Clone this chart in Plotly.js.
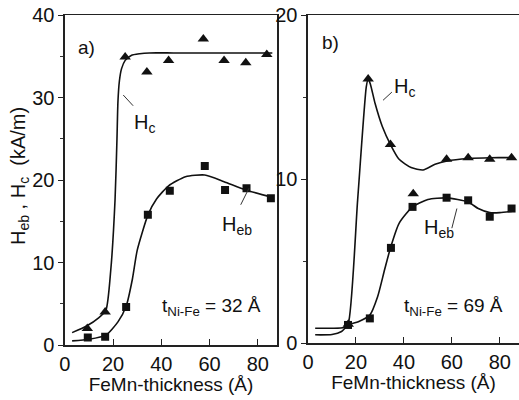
<!DOCTYPE html>
<html><head><meta charset="utf-8">
<script src="https://cdn.plot.ly/plotly-3.0.1.min.js"></script>
<style>html,body{margin:0;padding:0;background:#fff}#chart{width:519px;height:400px}</style>
</head><body><div id="chart"></div>
<script>
// Panel a) t_NiFe = 32 Å
const aHcX = [9.3, 16.7, 25, 34, 43, 57.4, 66, 75, 83.7];
const aHcY = [2.0, 4.0, 34.9, 33.1, 34.5, 37.1, 34.5, 34.2, 35.2];
const aHebX = [9.5, 16.7, 25.4, 34.4, 43.5, 58, 66.4, 75.3, 85.4];
const aHebY = [0.9, 1.0, 4.6, 15.8, 18.7, 21.7, 18.8, 19.0, 17.8];
const aHcFitX = [3, 9, 14, 17, 19, 20.8, 21.6, 22.0, 22.6, 23.5, 25, 27.5, 31, 35, 45, 60, 75, 86];
const aHcFitY = [1.5, 2.3, 3.3, 4.2, 9, 17.6, 25, 29.5, 32.0, 33.5, 34.5, 35.1, 35.3, 35.4, 35.4, 35.4, 35.4, 35.4];
const aHebFitX = [3, 10, 17, 22, 25.5, 28, 30, 34.5, 38, 43, 50, 58, 66, 75, 86];
const aHebFitY = [0.5, 0.7, 1.2, 2.8, 4.8, 8, 11.5, 15.8, 17.7, 19.3, 20.4, 20.6, 19.8, 18.8, 17.9];
// Panel b) t_NiFe = 69 Å
const bHcX = [16.8, 25.1, 34.4, 43.9, 57.8, 66.8, 75.8, 84.9];
const bHcY = [1.15, 16.1, 12.1, 9.1, 11.2, 11.3, 11.2, 11.3];
const bHebX = [16.7, 25.8, 34.6, 43.6, 57.8, 66.8, 75.8, 84.9];
const bHebY = [1.1, 1.5, 5.8, 8.3, 8.86, 8.7, 7.7, 8.2];
const bHcFitX = [3, 10, 15, 16.8, 20.7, 24.3, 25.1, 26, 28, 31, 34.4, 38, 43, 48, 53, 58, 67, 76, 86];
const bHcFitY = [0.9, 0.9, 0.95, 1.2, 8.7, 15.6, 16.1, 15.8, 14.6, 13.2, 12.1, 11.2, 10.7, 10.55, 10.9, 11.1, 11.25, 11.3, 11.3];
const bHebFitX = [3, 10, 14, 16.8, 21, 25.8, 29, 32, 34.6, 38, 43.6, 50, 57.8, 66.8, 71, 75.8, 80, 86];
const bHebFitY = [0.5, 0.52, 0.7, 1.1, 1.3, 1.7, 2.8, 4.5, 5.9, 7.3, 8.3, 8.75, 8.85, 8.6, 8.2, 7.95, 7.95, 8.05];

const F = 'Liberation Sans, Arial, Helvetica, sans-serif';
const line = (x, y, xa, ya) => ({x, y, xaxis: xa, yaxis: ya, mode: 'lines', type: 'scatter',
  line: {color: '#111', width: 1.6, shape: 'spline', smoothing: 0.6}, hoverinfo: 'skip', showlegend: false});
const pts = (x, y, xa, ya, sym, sz) => ({x, y, xaxis: xa, yaxis: ya, mode: 'markers', type: 'scatter',
  marker: {symbol: sym, size: sz, color: '#111'}, showlegend: false});

const data = [
  line(aHcFitX, aHcFitY, 'x', 'y'), line(aHebFitX, aHebFitY, 'x', 'y'),
  pts(aHcX, aHcY, 'x', 'y', 'triangle-up', 10), pts(aHebX, aHebY, 'x', 'y', 'square', 8),
  line(bHcFitX, bHcFitY, 'x2', 'y2'), line(bHebFitX, bHebFitY, 'x2', 'y2'),
  pts(bHcX, bHcY, 'x2', 'y2', 'triangle-up', 10), pts(bHebX, bHebY, 'x2', 'y2', 'square', 8)
];

const xax = (dom) => ({domain: dom, range: [0, 88], dtick: 20, tick0: 0, ticks: 'inside', ticklen: 6,
  tickcolor: '#222', showline: true, linecolor: '#222', linewidth: 1.5, mirror: true, zeroline: false,
  showgrid: false, tickfont: {family: F, size: 20, color: '#111'},
  title: {text: 'FeMn-thickness (Å)', font: {family: F, size: 19, color: '#111'}, standoff: 4}});
const yax = (dom, rng, dt, anchor, mir) => ({domain: dom, range: rng, dtick: dt, ticks: 'outside', ticklen: 5,
  tickcolor: '#222', showline: true, linecolor: '#222', linewidth: 1.5, mirror: mir, zeroline: false,
  showgrid: false, anchor: anchor, tickfont: {family: F, size: 20, color: '#111'},
  minor: {dtick: dt / 2, ticks: 'outside', ticklen: 3, tickcolor: '#333'}});

const ann = (x, y, xr, yr, text, size, xanchor) => ({x, y, xref: xr, yref: yr, text, showarrow: false,
  xanchor: xanchor || 'left', yanchor: 'middle', font: {family: F, size, color: '#111'}});

const layout = {
  width: 519, height: 400, margin: {l: 0, r: 0, t: 0, b: 0},
  paper_bgcolor: '#fff', plot_bgcolor: '#fff',
  xaxis: Object.assign(xax([0.125, 0.534]), {anchor: 'y'}),
  yaxis: yax([0.1375, 0.9625], [0, 40], 10, 'x', true),
  xaxis2: Object.assign(xax([0.5934, 1]), {anchor: 'y2'}),
  yaxis2: yax([0.1425, 0.9625], [0, 20], 10, 'x2', false),
  annotations: [
    ann(0.0385, 0.56, 'paper', 'paper', 'H<sub>eb</sub> , H<sub>c</sub>  (kA/m)', 20, 'center'),
    ann(4.5, 36.1, 'x', 'y', 'a)', 19),
    ann(27.8, 26.8, 'x', 'y', 'H<sub>c</sub>', 20),
    ann(64.5, 14.5, 'x', 'y', 'H<sub>eb</sub>', 20),
    ann(39.3, 4.6, 'x', 'y', 't<sub>Ni-Fe</sub> = 32 Å', 19),
    ann(5.0, 18.3, 'x2', 'y2', 'b)', 19),
    ann(35.2, 15.6, 'x2', 'y2', 'H<sub>c</sub>', 20),
    ann(47.7, 7.0, 'x2', 'y2', 'H<sub>eb</sub>', 20),
    ann(39.3, 2.2, 'x2', 'y2', 't<sub>Ni-Fe</sub> = 69 Å', 19)
  ],
  shapes: [
    {type: 'line', xref: 'x', yref: 'y', x0: 24.2, y0: 30.3, x1: 28.3, y1: 29.0, line: {color: '#333', width: 1}},
    {type: 'line', xref: 'x', yref: 'y', x0: 72.9, y0: 17.0, x1: 76.3, y1: 19.0, line: {color: '#333', width: 1}},
    {type: 'line', xref: 'x2', yref: 'y2', x0: 31.3, y0: 14.8, x1: 35.0, y1: 15.3, line: {color: '#333', width: 1}},
    {type: 'line', xref: 'x2', yref: 'y2', x0: 60.0, y0: 7.0, x1: 62.1, y1: 8.2, line: {color: '#333', width: 1}}
  ]
};
layout.annotations[0].textangle = -90;
Plotly.newPlot('chart', data, layout, {displayModeBar: false, staticPlot: true});
</script></body></html>
